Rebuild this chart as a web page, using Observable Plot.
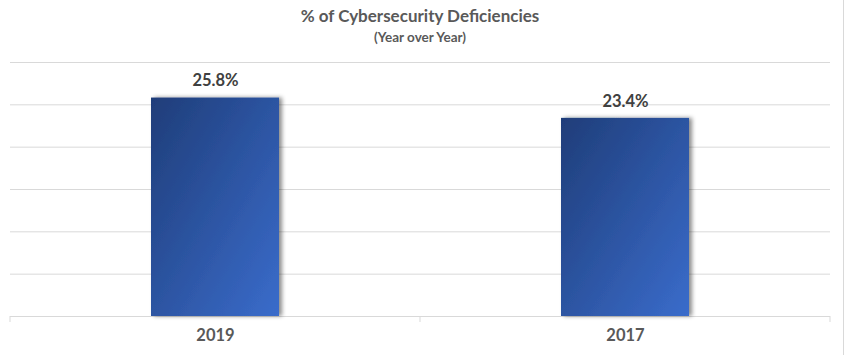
<!DOCTYPE html>
<html><head><meta charset="utf-8">
<script src="https://cdn.jsdelivr.net/npm/d3@7"></script>
<script src="https://cdn.jsdelivr.net/npm/@observablehq/plot@0.6"></script>
<style>
body{margin:0;background:#fff;font-family:Lato,"Open Sans",sans-serif;}
#wrap{position:relative;width:845px;height:355px;overflow:hidden;}
#head{height:50px;position:relative;}
.t{position:absolute;left:10px;width:820px;text-align:center;font-weight:bold;color:#595959;white-space:nowrap;}
#title{top:5px;font-size:17px;line-height:21px;}
#sub{top:29px;font-size:13.5px;line-height:17px;}
#frame{position:absolute;left:843px;top:0;bottom:0;width:1px;background:#d9d9d9;}
#chart svg{display:block;}
</style></head>
<body>
<div id="wrap">
  <div id="head">
    <div class="t" id="title">% of Cybersecurity Deficiencies</div>
    <div class="t" id="sub">(Year over Year)</div>
  </div>
  <div id="chart"></div>
  <div id="frame"></div>
</div>
<script>
const years = ["2019", "2017"];
const deficiencyPct = [25.8, 23.4];
const gridTicks = [0, 5, 10, 15, 20, 25, 30];

const data = years.map((year, i) => ({year, value: deficiencyPct[i]}));

// category boundary ticks below the baseline, derived from the band scale
function boundaryTicks(index, scales, values, dimensions) {
  const x = scales.x;
  const g = d3.create("svg:g").attr("aria-label", "category-ticks");
  if (!x || !x.step) return g.node();
  const step = x.step(), bw = x.bandwidth();
  const half = (step - bw) / 2;
  const pos = years.map(c => x(c) - half);
  pos.push(x(years[years.length - 1]) + bw + half);
  const y0 = scales.y(0);
  g.selectAll("line").data(pos).join("line")
    .attr("x1", d => d).attr("x2", d => d)
    .attr("y1", y0).attr("y2", y0 + 6)
    .attr("stroke", "#d9d9d9").attr("stroke-width", 1);
  return g.node();
}

const pi = 1 - 128 / 409.5;
const chart = Plot.plot({
  width: 845,
  height: 305,
  marginTop: 12,
  marginBottom: 39,
  marginLeft: 10,
  marginRight: 15,
  x: {domain: years, paddingInner: pi, paddingOuter: pi / 2, axis: null},
  y: {domain: [0, 30], axis: null},
  style: {fontFamily: "Lato, 'Open Sans', sans-serif", background: "white", overflow: "visible"},
  marks: [
    Plot.ruleY(gridTicks, {stroke: "#d9d9d9", strokeWidth: 1}),
    boundaryTicks,
    Plot.barY(data, {x: "year", y: "value", fill: "url(#barGrad)"}),
    Plot.text(data, {x: "year", y: "value", text: d => d.value.toFixed(1) + "%", dy: -17,
      fontSize: 16.5, fontWeight: "bold", fill: "#404040"}),
    Plot.text(data, {x: "year", frameAnchor: "bottom", text: "year", dy: 24,
      fontSize: 16.5, fontWeight: "bold", fill: "#595959"})
  ]
});

const svg = d3.select(chart);
const defs = svg.insert("defs", ":first-child");
const grad = defs.append("linearGradient").attr("id", "barGrad")
  .attr("x1", 0).attr("y1", 0).attr("x2", 1).attr("y2", 1);
grad.append("stop").attr("offset", "0%").attr("stop-color", "#1f3d79");
grad.append("stop").attr("offset", "100%").attr("stop-color", "#3a6ccb");
const filt = defs.append("filter").attr("id", "barShadow")
  .attr("x", "-10%").attr("y", "-10%").attr("width", "130%").attr("height", "120%");
filt.append("feDropShadow").attr("dx", 3).attr("dy", 0).attr("stdDeviation", 2.2)
  .attr("flood-color", "#000").attr("flood-opacity", 0.45);
svg.selectAll("g[aria-label='bar'] rect").attr("filter", "url(#barShadow)");

document.getElementById("chart").appendChild(chart);
</script>
</body></html>
